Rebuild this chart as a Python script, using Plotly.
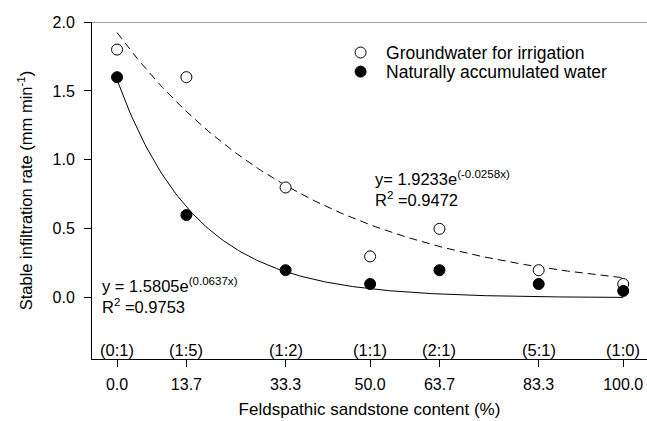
import numpy as np
import plotly.graph_objects as go

# ---- data ----
content = [0.0, 13.7, 33.3, 50.0, 63.7, 83.3, 100.0]
tick_labels = ["0.0", "13.7", "33.3", "50.0", "63.7", "83.3", "100.0"]
ratio_labels = ["(0:1)", "(1:5)", "(1:2)", "(1:1)", "(2:1)", "(5:1)", "(1:0)"]
groundwater = [1.8, 1.6, 0.8, 0.3, 0.5, 0.2, 0.1]
natural = [1.6, 0.6, 0.2, 0.1, 0.2, 0.1, 0.05]
# fitted exponential models shown on the chart
gw_a, gw_b = 1.9233, -0.0258
nat_a, nat_b = 1.5805, -0.0637

FONT = "Arial, Liberation Sans, sans-serif"
xs = np.linspace(0, 100, 201)

fig = go.Figure()
fig.add_trace(go.Scatter(x=xs, y=gw_a * np.exp(gw_b * xs), mode="lines",
                         line=dict(color="black", width=1, dash="8px,5px"),
                         showlegend=False, hoverinfo="skip"))
fig.add_trace(go.Scatter(x=xs, y=nat_a * np.exp(nat_b * xs), mode="lines",
                         line=dict(color="black", width=1),
                         showlegend=False, hoverinfo="skip"))
fig.add_trace(go.Scatter(x=content, y=groundwater, mode="markers",
                         name="Groundwater for irrigation", legend="legend",
                         marker=dict(symbol="circle", size=11, color="white",
                                     line=dict(color="black", width=1))))
fig.add_trace(go.Scatter(x=content, y=natural, mode="markers",
                         name="Naturally accumulated water", legend="legend2",
                         marker=dict(symbol="circle", size=11, color="black",
                                     line=dict(color="black", width=1))))

# ratio labels inside plot
for xv, lab in zip(content, ratio_labels):
    fig.add_annotation(x=xv, y=-0.379, text=lab, showarrow=False,
                       font=dict(size=16.5, color="black", family=FONT))

fig.add_annotation(x=0, xref="paper", xanchor="left", xshift=8,
                   y=0.02, yanchor="middle",
                   text=f"y = {nat_a}e<sup>({-nat_b}x)</sup><br>R<sup>2</sup> =0.9753",
                   align="left", showarrow=False,
                   font=dict(size=16.5, color="black", family=FONT))
fig.add_annotation(x=50.6, xanchor="left", y=0.79, yanchor="middle",
                   text=f"y= {gw_a}e<sup>({gw_b}x)</sup><br>R<sup>2</sup> =0.9472",
                   align="left", showarrow=False,
                   font=dict(size=16.5, color="black", family=FONT))

# top frame line
fig.add_shape(type="line", xref="paper", x0=0, x1=1, yref="y", y0=2.0, y1=2.0,
              line=dict(color="#444", width=1))

leg_common = dict(xanchor="left", yanchor="middle", bgcolor="rgba(0,0,0,0)",
                  font=dict(size=17.5, family=FONT, color="black"), itemwidth=41)

fig.update_layout(
    width=647, height=421,
    margin=dict(l=92, r=0, t=22, b=62, autoexpand=False),
    paper_bgcolor="white", plot_bgcolor="white",
    font=dict(family=FONT, size=16, color="black"),
    legend=dict(x=0.438, y=0.909, **leg_common),
    legend2=dict(x=0.438, y=0.8525, **leg_common),
    xaxis=dict(range=[-4.95, 104.7], tickvals=content, ticktext=tick_labels,
               ticks="outside", ticklen=7, tickcolor="black",
               showline=True, linecolor="black", linewidth=1,
               showgrid=False, zeroline=False, ticklabelstandoff=4,
               title=dict(text="Feldspathic sandstone content (%)", standoff=10,
                          font=dict(size=17))),
    yaxis=dict(range=[-0.444, 2.0], tickvals=[0, 0.5, 1.0, 1.5, 2.0],
               tickformat=".1f",
               ticks="outside", ticklen=7, tickcolor="black",
               showline=True, linecolor="black", linewidth=1,
               showgrid=False, zeroline=False, ticklabelstandoff=6,
               title=dict(text="Stable infiltration rate (mm min<sup>-1</sup>)",
                          standoff=15, font=dict(size=16.5))),
)

fig.write_html("out.html", config={"displayModeBar": False},
               post_script="document.body.style.margin='0';document.body.style.overflow='hidden';")
